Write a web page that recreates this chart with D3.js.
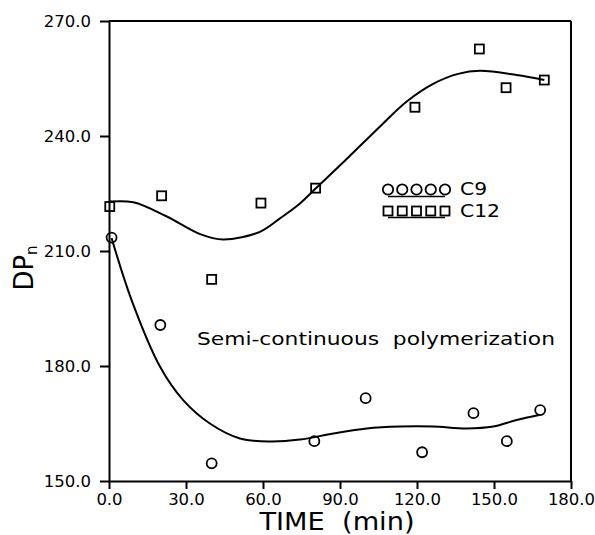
<!DOCTYPE html>
<html>
<head>
<meta charset="utf-8">
<script src="https://cdn.jsdelivr.net/npm/d3@7"></script>
<style>
  body { margin: 0; background: #fff; }
  svg { display: block; }
  text { font-family: "DejaVu Sans", sans-serif; fill: #000; }
</style>
</head>
<body>
<div class="container"></div>
<script>
// measured points, C9 (circles)
const timeC9 = [1, 20, 40, 80, 100, 122, 142, 155, 168]
const dpC9 = [213.5, 190.7, 154.6, 160.4, 171.6, 157.5, 167.7, 160.4, 168.5]

// measured points, C12 (squares)
const timeC12 = [0.3, 20.5, 40, 59.2, 80.5, 119.2, 144.3, 154.7, 169.6]
const dpC12 = [221.6, 224.4, 202.6, 222.5, 226.4, 247.5, 262.7, 252.6, 254.6]

// fitted curves
const fitTimeC9 = [1, 8.8, 19.9, 28.9, 39.3, 51, 62.7, 74.4, 87.4, 100.4, 113.4, 126.3, 139.3, 149.7, 158.8, 167.6]
const fitC9 = [213.4, 197.2, 179.8, 171.1, 165, 161.1, 160.3, 160.8, 162.4, 163.7, 164.2, 164.2, 163.7, 164.2, 165.9, 167.2]
const fitTimeC12 = [0.3, 9.5, 22.5, 35.5, 44.4, 58.8, 66.6, 74.4, 80.5, 92.6, 105.6, 116, 126.3, 136, 144.5, 158.8, 169.6]
const fitC12 = [222.9, 222.7, 219, 214.4, 213, 215, 218.5, 222.4, 226.3, 234, 242.5, 249, 253.6, 256.2, 257, 255.9, 254.6]

const xTicks = [0, 30, 60, 90, 120, 150, 180]
const yTicks = [150, 180, 210, 240, 270]

const width = 595
const height = 535

const svg = d3.select(".container")
    .append("svg")
    .attr("width", width)
    .attr("height", height)

const xScale = d3.scaleLinear().domain([0, 180]).range([109, 571])
const yScale = d3.scaleLinear().domain([150, 270]).range([481, 21])

// Axes
const xAxis = svg.append("g")
    .attr("transform", `translate(0, ${yScale(150)})`)
    .call(d3.axisBottom(xScale).tickValues(xTicks).tickFormat(d3.format(".1f")).tickSizeInner(8).tickSizeOuter(0).tickPadding(4))
const yAxis = svg.append("g")
    .attr("transform", `translate(${xScale(0)}, 0)`)
    .call(d3.axisLeft(yScale).tickValues(yTicks).tickFormat(d3.format(".1f")).tickSizeInner(9).tickSizeOuter(0).tickPadding(9))

for (const ax of [xAxis, yAxis]) {
    ax.selectAll("path, line").attr("stroke", "#000").attr("stroke-width", 2)
    ax.selectAll("text")
        .style("font-family", '"DejaVu Sans", sans-serif')
        .style("font-size", "16.5px")
        .attr("fill", "#000")
}

// top and right frame
svg.append("line")
    .attr("x1", xScale(0)).attr("x2", xScale(180))
    .attr("y1", yScale(270)).attr("y2", yScale(270))
    .attr("stroke", "#000").attr("stroke-width", 2)
svg.append("line")
    .attr("x1", xScale(180)).attr("x2", xScale(180))
    .attr("y1", yScale(270)).attr("y2", yScale(150))
    .attr("stroke", "#000").attr("stroke-width", 2)

// axis titles
svg.append("text")
    .attr("x", 337)
    .attr("y", 530)
    .attr("text-anchor", "middle")
    .style("font-size", "24px")
    .style("white-space", "pre")
    .attr("textLength", 155)
    .attr("lengthAdjust", "spacingAndGlyphs")
    .text("TIME  (min)")

const yLabel = svg.append("text")
    .attr("transform", "translate(33, 268) rotate(-90)")
    .attr("text-anchor", "middle")
    .style("font-size", "26px")
yLabel.append("tspan").text("DP")
yLabel.append("tspan").attr("dy", 4).style("font-size", "15px").text("n")

// fitted lines
const line = d3.line()
    .x(d => xScale(d[0]))
    .y(d => yScale(d[1]))
    .curve(d3.curveCatmullRom)

svg.append("path")
    .datum(fitTimeC9.map((t, i) => [t, fitC9[i]]))
    .attr("d", line)
    .attr("fill", "none").attr("stroke", "#000").attr("stroke-width", 2)
svg.append("path")
    .datum(fitTimeC12.map((t, i) => [t, fitC12[i]]))
    .attr("d", line)
    .attr("fill", "none").attr("stroke", "#000").attr("stroke-width", 2)

// markers
svg.append("g")
    .selectAll("circle")
    .data(timeC9.map((t, i) => [t, dpC9[i]]))
    .enter()
    .append("circle")
        .attr("cx", d => xScale(d[0]))
        .attr("cy", d => yScale(d[1]))
        .attr("r", 5)
        .attr("fill", "none")
        .attr("stroke", "#000")
        .attr("stroke-width", 1.8)

svg.append("g")
    .selectAll("rect")
    .data(timeC12.map((t, i) => [t, dpC12[i]]))
    .enter()
    .append("rect")
        .attr("x", d => xScale(d[0]) - 4.5)
        .attr("y", d => yScale(d[1]) - 4.5)
        .attr("width", 9)
        .attr("height", 9)
        .attr("fill", "none")
        .attr("stroke", "#000")
        .attr("stroke-width", 1.8)

// legend
const legend = svg.append("g").attr("id", "legend")
const legendX = [388, 402.25, 416.5, 430.75, 445]

legend.selectAll("circle")
    .data(legendX)
    .enter()
    .append("circle")
        .attr("cx", d => d)
        .attr("cy", 189.5)
        .attr("r", 5.2)
        .attr("fill", "none").attr("stroke", "#000").attr("stroke-width", 1.8)
legend.append("line")
    .attr("x1", 388).attr("x2", 445).attr("y1", 196.5).attr("y2", 196.5)
    .attr("stroke", "#000").attr("stroke-width", 1.5)
legend.append("text")
    .attr("x", 460).attr("y", 195)
    .style("font-size", "17px")
    .attr("textLength", 27)
    .attr("lengthAdjust", "spacingAndGlyphs")
    .text("C9")

legend.selectAll("rect")
    .data(legendX)
    .enter()
    .append("rect")
        .attr("x", d => d - 4.5)
        .attr("y", 206.5)
        .attr("width", 9)
        .attr("height", 9)
        .attr("fill", "none").attr("stroke", "#000").attr("stroke-width", 1.8)
legend.append("line")
    .attr("x1", 388).attr("x2", 445).attr("y1", 217.5).attr("y2", 217.5)
    .attr("stroke", "#000").attr("stroke-width", 1.5)
legend.append("text")
    .attr("x", 460).attr("y", 217)
    .style("font-size", "17px")
    .attr("textLength", 40)
    .attr("lengthAdjust", "spacingAndGlyphs")
    .text("C12")

// annotation
svg.append("text")
    .attr("x", 197)
    .attr("y", 345)
    .style("font-size", "17.5px")
    .style("white-space", "pre")
    .attr("textLength", 358)
    .attr("lengthAdjust", "spacingAndGlyphs")
    .text("Semi-continuous  polymerization")
</script>
</body>
</html>
